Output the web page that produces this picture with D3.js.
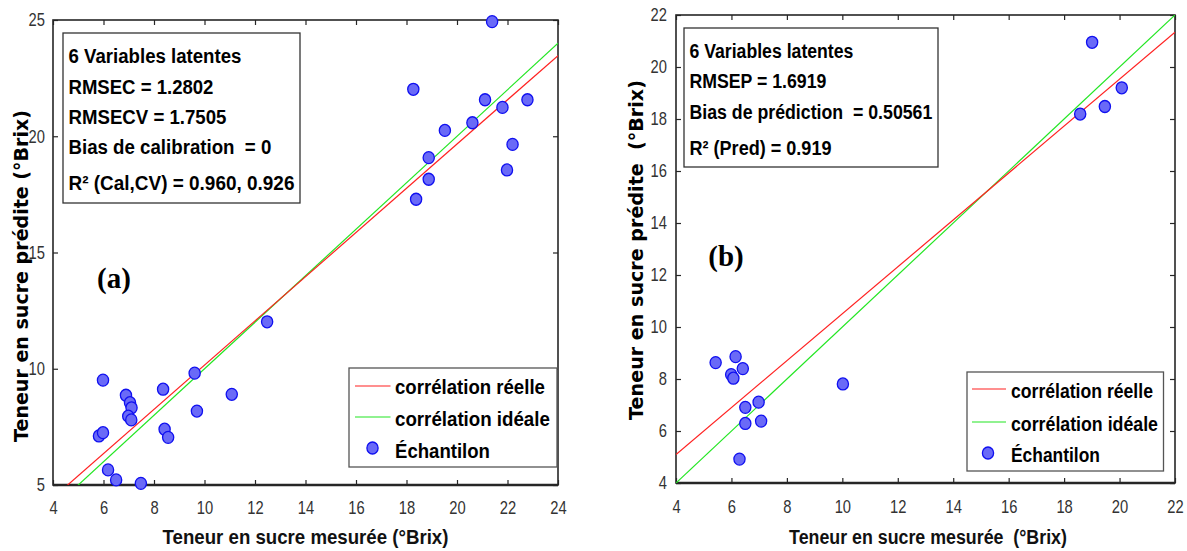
<!DOCTYPE html>
<html>
<head>
<meta charset="utf-8">
<script src="https://cdn.jsdelivr.net/npm/d3@7"></script>
<style>
  html, body { margin: 0; padding: 0; background: #fff; }
  svg { display: block; }
  text { white-space: pre; }
</style>
</head>
<body>
<svg id="chart" width="1187" height="551"></svg>
<script>
// ---------------- DATA ----------------
// (a) calibration set: measured vs predicted (°Brix)
const calMeasured  = [21.39, 18.27, 21.11, 21.80, 22.79, 20.61, 19.52, 22.20, 18.88, 21.98, 18.88, 18.38,
                      12.48, 9.61, 5.98, 8.36, 6.89, 7.05, 7.11, 6.98, 7.10, 11.08, 9.70, 5.82, 5.98, 8.42, 8.56, 6.18, 6.50, 7.48];
const calPredicted = [24.93, 22.02, 21.57, 21.24, 21.57, 20.58, 20.25, 19.65, 19.08, 18.55, 18.15, 17.29,
                      12.02, 9.81, 9.51, 9.12, 8.86, 8.54, 8.32, 7.96, 7.80, 8.90, 8.18, 7.11, 7.25, 7.40, 7.05, 5.65, 5.22, 5.07];
// (b) prediction set
const predMeasured  = [19.01, 20.08, 19.47, 18.58, 5.43, 6.15, 6.41, 5.99, 6.07, 10.02, 6.98, 6.50, 6.50, 7.07, 6.29];
const predPredicted = [20.95, 19.20, 18.48, 18.19, 8.63, 8.86, 8.40, 8.17, 8.03, 7.81, 7.11, 6.91, 6.29, 6.38, 4.92];

// fitted "corrélation réelle" lines [slope, intercept]
const calFit  = [0.951, 0.644];
const predFit = [0.902, 1.49];

// tick values
const xTicksA = [4, 6, 8, 10, 12, 14, 16, 18, 20, 22, 24];
const yTicksA = [5, 10, 15, 20, 25];
const xTicksB = [4, 6, 8, 10, 12, 14, 16, 18, 20, 22];
const yTicksB = [4, 6, 8, 10, 12, 14, 16, 18, 20, 22];

// texts
const calStats  = ["6 Variables latentes", "RMSEC = 1.2802", "RMSECV = 1.7505", "Bias de calibration  = 0", "R² (Cal,CV) = 0.960, 0.926"];
const predStats = ["6 Variables latentes", "RMSEP = 1.6919", "Bias de prédiction  = 0.50561", "R² (Pred) = 0.919"];
const legendLabels = ["corrélation réelle", "corrélation idéale", "Échantilon"];
const xTitles = ["Teneur en sucre mesurée (°Brix)", "Teneur en sucre mesurée  (°Brix)"];
const yTitles = ["Teneur en sucre prédite (°Brix)", "Teneur en sucre prédite  (°Brix)"];
const panelTags = ["(a)", "(b)"];

// ---------------- STYLE / LAYOUT ----------------
const SANS = "'Liberation Sans','Arial',sans-serif";
const WIDE_BOLD = "'DejaVu Sans','Verdana',sans-serif";
const SERIF = "'Liberation Serif','Times New Roman',serif";
const RED = "#ff2020", GREEN = "#22e622", MK_FILL = "#6a6af7", MK_STROKE = "#1010f0", AX = "#262626";
const NARROW_SCALE = 0.82;

const panels = [
  { left: 53, right: 558, top: 20, bottom: 485, xd: [4, 24], yd: [5, 25], xt: xTicksA, yt: yTicksA,
    mx: calMeasured, my: calPredicted, fit: calFit, stats: calStats,
    box: { x: 63, y: 33, w: 237, h: 170, tx: 68.5, base: [63, 94, 124, 154, 190], len: [173, 145, 158, 203, 226] },
    leg: { x: 349, y: 368, w: 208, h: 99, lx1: 355, lx2: 390.5, mkx: 372.5, tx: 395, rows: [386, 417, 448], base: [394, 426, 458], len: [150, 155, 95] },
    tag: { x: 114, y: 288 },
    xTitle: { x: 305.5, y: 544, len: 286 }, yTitle: { x: 21, y: 276, len: 332 },
    xPad: 16, yPad: 8 },
  { left: 676, right: 1175, top: 15, bottom: 483, xd: [4, 22], yd: [4, 22], xt: xTicksB, yt: yTicksB,
    mx: predMeasured, my: predPredicted, fit: predFit, stats: predStats,
    box: { x: 684, y: 28, w: 254, h: 139, tx: 689.5, base: [58, 88, 119, 155], len: [164, 137, 243, 142] },
    leg: { x: 967, y: 372, w: 196.5, h: 99, lx1: 972, lx2: 1006, mkx: 988, tx: 1011, rows: [389, 422, 453], base: [398, 431, 462], len: [142, 147, 89] },
    tag: { x: 726, y: 266 },
    xTitle: { x: 928, y: 544, len: 278 }, yTitle: { x: 636, y: 250, len: 340 },
    xPad: 17, yPad: 9 }
];

const svg = d3.select("#chart");

// scale a text horizontally so that its width matches the target width
function fitText(t, x, y, target, pre = "") {
  t.attr("x", 0).attr("y", 0);
  const w = t.node().getComputedTextLength();
  const s = w > 0 ? target / w : 1;
  t.attr("transform", `translate(${x},${y}) ${pre} scale(${s},1)`);
}

panels.forEach((p, i) => {
  const x = d3.scaleLinear().domain(p.xd).range([p.left, p.right]);
  const y = d3.scaleLinear().domain(p.yd).range([p.bottom, p.top]);
  const g = svg.append("g");

  const clipId = "clip" + i;
  svg.append("clipPath").attr("id", clipId).append("rect")
    .attr("x", p.left).attr("y", p.top).attr("width", p.right - p.left).attr("height", p.bottom - p.top);

  // axes
  const axB = g.append("g").attr("transform", `translate(0,${p.bottom})`)
    .call(d3.axisBottom(x).tickValues(p.xt).tickSize(-5).tickSizeOuter(0).tickPadding(p.xPad).tickFormat(d3.format("d")));
  const axT = g.append("g").attr("transform", `translate(0,${p.top})`)
    .call(d3.axisTop(x).tickValues(p.xt).tickSize(-5).tickSizeOuter(0).tickFormat(""));
  const axL = g.append("g").attr("transform", `translate(${p.left},0)`)
    .call(d3.axisLeft(y).tickValues(p.yt).tickSize(-5).tickSizeOuter(0).tickPadding(p.yPad).tickFormat(d3.format("d")));
  const axR = g.append("g").attr("transform", `translate(${p.right},0)`)
    .call(d3.axisRight(y).tickValues(p.yt).tickSize(-5).tickSizeOuter(0).tickFormat(""));
  [axB, axT, axL, axR].forEach(a => {
    a.select(".domain").remove();
    a.selectAll(".tick line").attr("stroke", AX).attr("stroke-width", 1.2);
    a.selectAll(".tick text").attr("fill", "#333").style("font-family", SANS).style("font-size", "18px");
  });
  axB.selectAll(".tick text").attr("transform", `scale(${NARROW_SCALE},1)`);
  axL.selectAll(".tick text").attr("x", -p.yPad / NARROW_SCALE).attr("transform", `scale(${NARROW_SCALE},1)`);

  // frame
  g.append("rect").attr("x", p.left).attr("y", p.top).attr("width", p.right - p.left).attr("height", p.bottom - p.top)
    .attr("fill", "none").attr("stroke", AX).attr("stroke-width", 1.6);
  g.append("line").attr("x1", p.left).attr("x2", p.right).attr("y1", p.bottom).attr("y2", p.bottom)
    .attr("stroke", AX).attr("stroke-width", 2.6);

  // lines
  const lg = g.append("g").attr("clip-path", `url(#${clipId})`);
  const lineGen = d3.line().x(d => x(d[0])).y(d => y(d[1]));
  lg.append("path").datum(p.xd.map(v => [v, v])).attr("d", lineGen)
    .attr("fill", "none").attr("stroke", GREEN).attr("stroke-width", 1.2);
  lg.append("path").datum(p.xd.map(v => [v, p.fit[0] * v + p.fit[1]])).attr("d", lineGen)
    .attr("fill", "none").attr("stroke", RED).attr("stroke-width", 1.2);

  // points
  g.append("g").selectAll("ellipse").data(p.mx.map((v, k) => [v, p.my[k]])).join("ellipse")
    .attr("cx", d => x(d[0])).attr("cy", d => y(d[1])).attr("rx", 5.6).attr("ry", 6)
    .attr("fill", MK_FILL).attr("stroke", MK_STROKE).attr("stroke-width", 1.3);

  // statistics box
  const b = p.box;
  g.append("rect").attr("x", b.x).attr("y", b.y).attr("width", b.w).attr("height", b.h)
    .attr("fill", "#fff").attr("stroke", "#333").attr("stroke-width", 1.3);
  p.stats.forEach((s, k) => {
    const t = g.append("text").text(s)
      .style("font-family", SANS).style("font-weight", "bold").style("font-size", "21px").attr("fill", "#000");
    fitText(t, b.tx, b.base[k], b.len[k]);
  });

  // legend
  const L = p.leg;
  g.append("rect").attr("x", L.x).attr("y", L.y).attr("width", L.w).attr("height", L.h)
    .attr("fill", "#fff").attr("stroke", "#555").attr("stroke-width", 1.3);
  [RED, GREEN].forEach((c, k) => {
    g.append("line").attr("x1", L.lx1).attr("x2", L.lx2).attr("y1", L.rows[k]).attr("y2", L.rows[k])
      .attr("stroke", c).attr("stroke-width", 1.2);
  });
  g.append("ellipse").attr("cx", L.mkx).attr("cy", L.rows[2]).attr("rx", 5.6).attr("ry", 6)
    .attr("fill", MK_FILL).attr("stroke", MK_STROKE).attr("stroke-width", 1.3);
  legendLabels.forEach((s, k) => {
    const t = g.append("text").text(s)
      .style("font-family", SANS).style("font-weight", "bold").style("font-size", "21px").attr("fill", "#000");
    fitText(t, L.tx, L.base[k], L.len[k]);
  });

  // panel tag
  g.append("text").attr("x", p.tag.x).attr("y", p.tag.y).attr("text-anchor", "middle").text(panelTags[i])
    .style("font-family", SERIF).style("font-weight", "bold").style("font-size", "29px").attr("fill", "#000");

  // axis titles
  const xt = g.append("text").attr("text-anchor", "middle").text(xTitles[i])
    .style("font-family", SANS).style("font-weight", "bold").style("font-size", "20px").attr("fill", "#111");
  fitText(xt, p.xTitle.x, p.xTitle.y, p.xTitle.len);
  const yt = g.append("text").attr("text-anchor", "middle").attr("dy", "0.36em").text(yTitles[i])
    .style("font-family", WIDE_BOLD).style("font-weight", "bold").style("font-size", "19px").attr("fill", "#000");
  fitText(yt, p.yTitle.x, p.yTitle.y, p.yTitle.len, "rotate(-90)");
});
</script>
</body>
</html>
